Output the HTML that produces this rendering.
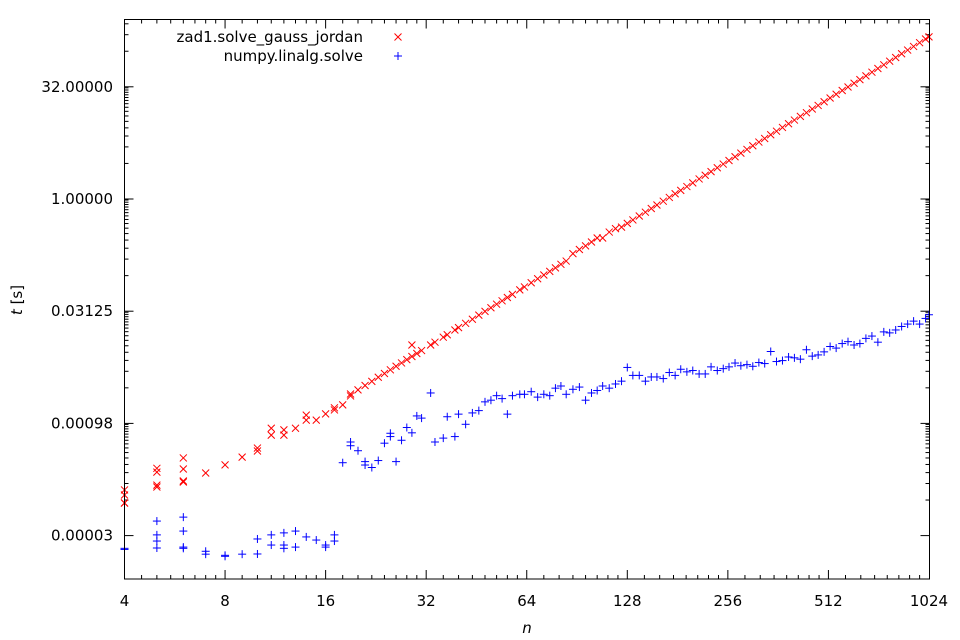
<!DOCTYPE html>
<html><head><meta charset="utf-8"><style>
html,body{margin:0;padding:0;background:#fff;}
svg{display:block;font-family:"DejaVu Sans","Liberation Sans",sans-serif;}
</style></head><body>
<svg id="chart" width="960" height="640" viewBox="0 0 960 640" xmlns="http://www.w3.org/2000/svg">
<rect x="0" y="0" width="960" height="640" fill="#fff"/>
<g id="ticks"></g>
<g id="marks"></g>
<rect x="124.5" y="19.5" width="805" height="559.5" fill="none" stroke="#000" stroke-width="1"/>
<g font-size="15" fill="#000">
  <text x="363" y="42" text-anchor="end">zad1.solve_gauss_jordan</text>
  <text x="363" y="61" text-anchor="end">numpy.linalg.solve</text>
</g>
<text x="527" y="633" font-size="15" font-style="italic" text-anchor="middle">n</text>
<text transform="translate(22,300) rotate(-90)" font-size="15" text-anchor="middle"><tspan font-style="italic">t</tspan> [s]</text>
</svg>
<script>
// small-n measurements (repeated runs), times in ms
const nSmallRed = [4,4,4,4,5,5,5,5,6,6,6,6,7,8,9,10,10,11,11,12,12,13,14,14,15,16,17,17,18,19,19,29];
const tSmallRed = [0.125,0.107,0.0835,0.0835,0.244,0.217,0.145,0.137,0.336,0.239,0.165,0.160,0.211,0.271,0.345,0.456,0.416,0.84,0.68,0.80,0.68,0.84,1.26,1.08,1.08,1.31,1.58,1.48,1.73,2.42,2.28,11.0];
const nSmallBlue = [4,4,5,5,5,5,6,6,6,6,7,7,8,8,9,10,10,11,11,12,12,12,13,13,14,15,16,16,17,17,18,19,19,21,25];
const tSmallBlue = [0.0206,0.0199,0.0478,0.0312,0.0258,0.0208,0.054,0.0351,0.0214,0.0206,0.0188,0.0172,0.0166,0.0161,0.0172,0.0275,0.0173,0.0312,0.0228,0.0332,0.0228,0.0206,0.0351,0.0214,0.0293,0.0266,0.0228,0.0214,0.0312,0.0258,0.29,0.55,0.49,0.27,0.72];
// larger n (one run each), times in ms
const nBig = [20,21,22,23,24,25,26,27,28,29,30,31,33,34,36,37,39,40,42,44,46,48,50,52,54,56,58,61,63,66,69,72,75,78,81,84,88,92,96,100,104,108,113,118,123,128,133,139,145,151,157,164,171,178,185,193,201,210,219,228,238,248,258,269,280,292,304,317,330,344,358,373,389,405,422,440,458,477,497,518,540,563,586,611,636,663,691,720,750,781,814,848,884,921,960,1000,1024];
const tBigRed = [2.75,3.15,3.58,4.06,4.56,5.11,5.70,6.32,7.00,7.71,8.47,9.27,11.0,12.0,14.0,15.1,17.5,18.8,21.5,24.4,27.7,31.1,34.8,38.8,43.1,47.7,52.6,60.4,66.1,75.2,85.1,95.7,107,119,133,147,185,210,235,265,300,300,360,400,420,471,524,592,665,745,830,935,1050,1175,1306,1469,1644,1858,2084,2328,2624,2944,3281,3690,4121,4624,5176,5808,6486,7278,8128,9120,10230,11450,12820,14390,16100,17990,20180,22650,25410,28510,31840,35730,39990,44870,50230,56360,63100,70630,79070,88720,99540,111400,125000,140000,149600];
const tBigBlue = [0.42,0.30,0.25,0.31,0.53,0.65,0.30,0.58,0.86,0.73,1.23,1.15,2.5,0.55,0.62,1.2,0.65,1.3,0.95,1.35,1.45,1.9,2.0,2.3,2.1,1.3,2.3,2.4,2.4,2.6,2.2,2.4,2.3,2.9,3.1,2.4,2.8,3.0,2.0,2.5,2.7,3.1,2.9,3.3,3.6,5.5,4.3,4.3,3.6,4.1,4.1,3.9,4.7,4.3,5.2,4.8,5.0,4.5,4.5,5.6,5.0,5.3,5.6,6.3,5.8,6.0,5.7,6.4,6.2,9.0,6.6,6.8,7.6,7.4,7.1,9.5,7.8,8.1,8.9,10.5,10.0,11.5,12.2,11.0,11.5,13.5,14.5,12.0,16.5,16.0,17.5,19.5,21,23,21,25,28];
const xTickVals = [4,8,16,32,64,128,256,512,1024];
const xTickLabels = ["4","8","16","32","64","128","256","512","1024"];
const yTickVals = [32,1,0.03125,0.0009765625,0.000030517578125];
const yTickLabels = ["32.00000","1.00000","0.03125","0.00098","0.00003"];

const NS="http://www.w3.org/2000/svg";
const L=124.5,R=929.5,T=19.5,B=579;
const xPix = n => L + 100.56*Math.log2(n/4);
const yPix = t => 199 - 22.44*Math.log2(t);
const ticks=document.getElementById('ticks'), marks=document.getElementById('marks');
function line(g,x1,y1,x2,y2,c){const e=document.createElementNS(NS,'line');e.setAttribute('x1',x1);e.setAttribute('y1',y1);e.setAttribute('x2',x2);e.setAttribute('y2',y2);e.setAttribute('stroke',c||'#000');e.setAttribute('stroke-width','1');g.appendChild(e);return e;}
function txt(s,x,y,anchor){const e=document.createElementNS(NS,'text');e.textContent=s;e.setAttribute('x',x);e.setAttribute('y',y);e.setAttribute('font-size','15');e.setAttribute('text-anchor',anchor);ticks.appendChild(e);return e;}
// x ticks
xTickVals.forEach((v,i)=>{
  const x=xPix(v);
  if(i>0&&i<xTickVals.length-1){line(ticks,x,B,x,B-9);line(ticks,x,T,x,T+9);}
  const t=txt(xTickLabels[i],x,606,'middle');
  
  
  if(i<xTickVals.length-1){for(let k=9;k<16;k++){const xm=xPix(v*k/8);line(ticks,xm,B,xm,B-4);line(ticks,xm,T,xm,T+4);}}
});
// y ticks (minor at odd multiples)
yTickVals.forEach((v,i)=>{
  const y=yPix(v);
  line(ticks,L,y,L+9,y);line(ticks,R,y,R-9,y);
  const t=txt(yTickLabels[i],113,y+5,'end');
  
  
  for(let k=3;k<32;k+=2){const ym=yPix(v*k);if(ym<T+1)break;line(ticks,L,ym,L+4,ym);line(ticks,R,ym,R-4,ym);}
});
function cross(x,y,c){const g=document.createElementNS(NS,'g');line(g,x-3.5,y-3.5,x+3.5,y+3.5,c);line(g,x-3.5,y+3.5,x+3.5,y-3.5,c);marks.appendChild(g);return g;}
function plus(x,y,c){const g=document.createElementNS(NS,'g');line(g,x-4,y,x+4,y,c);line(g,x,y-4,x,y+4,c);marks.appendChild(g);return g;}
nSmallRed.forEach((n,i)=>{const g=cross(xPix(n),yPix(tSmallRed[i]/1000),'#ff0000');

});
nBig.forEach((n,i)=>{const g=cross(xPix(n),yPix(tBigRed[i]/1000),'#ff0000');

});
nSmallBlue.forEach((n,i)=>{const g=plus(xPix(n),yPix(tSmallBlue[i]/1000),'#0000ff');

});
nBig.forEach((n,i)=>{const g=plus(xPix(n),yPix(tBigBlue[i]/1000),'#0000ff');

});
// legend markers
const lg1=cross(398,37,'#ff0000');


const lg2=plus(398,56,'#0000ff');


</script>
</body></html>
